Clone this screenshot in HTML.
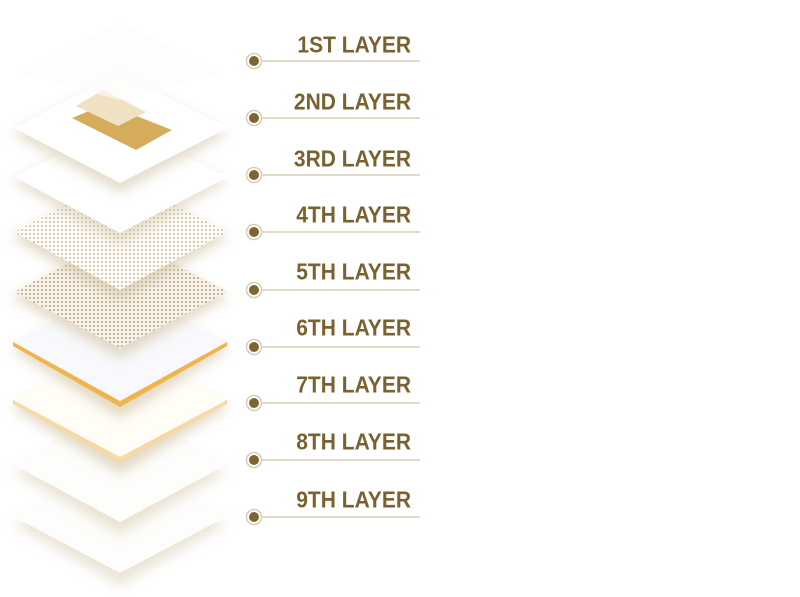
<!DOCTYPE html>
<html><head><meta charset="utf-8"><style>
html,body{margin:0;padding:0;background:#fff;}
body{width:800px;height:597px;position:relative;overflow:hidden;font-family:"Liberation Sans",sans-serif;}
.lbl{position:absolute;right:389px;font-weight:bold;font-size:21px;color:#7a6230;line-height:1;transform:scaleY(1.1);transform-origin:bottom;}
</style></head><body>
<svg width="800" height="597" style="position:absolute;left:0;top:0">
<defs>
<filter id="blur" x="-30%" y="-30%" width="160%" height="180%"><feGaussianBlur stdDeviation="6"/></filter>
<pattern id="dots" width="4" height="4" patternUnits="userSpaceOnUse">
<rect width="4" height="4" fill="#fdfbf7"/><circle cx="2" cy="2" r="1" fill="#cbbda2"/>
</pattern>
<pattern id="dots2" width="4" height="4" patternUnits="userSpaceOnUse">
<rect width="4" height="4" fill="#f8f4ec"/><circle cx="2" cy="2" r="1.1" fill="#bfae8e"/>
</pattern>
</defs>
<!-- L9 -->
<polygon points="120,470 226,524 120,585 14,524" fill="#d6c9ac" filter="url(#blur)" opacity="0.5"/>
<polygon points="120,462 226,517 120,573 14,517" fill="#fdfdfb"/>
<!-- L8 -->
<polygon points="120,418 226,472 120,534 14,472" fill="#d6c9ac" filter="url(#blur)" opacity="0.5"/>
<polygon points="120,410 226,465 120,522 14,465" fill="#fdfdfb"/>
<!-- L7 -->
<polygon points="120,356 228,408 120,474 12,408" fill="#d0c2a2" filter="url(#blur)" opacity="0.6"/>
<polygon points="120,350 227,400 227,404 120,463 13,404 13,400" fill="#f7d9a6"/>
<polygon points="120,344 227,400 120,457 13,400" fill="#fffdf6"/>
<!-- L6 -->
<polygon points="120,296 228,350 120,418 12,350" fill="#d0c2a2" filter="url(#blur)" opacity="0.6"/>
<polygon points="120,292 227,342 227,346 120,407 13,346 13,342" fill="#f0b54a"/>
<polygon points="120,286 227,342 120,401 13,342" fill="#f8f9fc"/>
<!-- L5 mesh -->
<polygon points="120,240 228,298 120,358 12,298" fill="#d0c2a2" filter="url(#blur)" opacity="0.6"/>
<polygon points="120,236 228,292 120,348 14,292" fill="url(#dots2)"/>
<!-- L4 mesh -->
<polygon points="120,182 228,238 120,300 12,238" fill="#d0c2a2" filter="url(#blur)" opacity="0.6"/>
<polygon points="120,178 228,232 120,290 14,232" fill="url(#dots)"/>
<!-- L3 -->
<polygon points="120,128 228,182 120,243 12,182" fill="#d0c2a2" filter="url(#blur)" opacity="0.5"/>
<polygon points="120,123 228,177 120,233 14,177" fill="#ffffff"/>
<!-- L2 -->
<polygon points="120,78 228,134 120,193 12,134" fill="#d0c2a2" filter="url(#blur)" opacity="0.55"/>
<polygon points="120,73 228,128 120,183 14,128" fill="#ffffff"/>
<polygon points="106,104 172,130 136,150 72,118" fill="#d4ac5c"/>
<polygon points="103,90 146,112 118,126 76,106" fill="#efe1c2"/>
<!-- L1 faint -->
<polygon points="120,22 225,72 120,100 15,72" fill="#fdfcfa" opacity="0.6"/>
<g stroke="#d9cdb6" stroke-width="1.5">
<line x1="258" y1="61" x2="420" y2="61"/><line x1="258" y1="118" x2="420" y2="118"/>
<line x1="258" y1="175" x2="420" y2="175"/><line x1="258" y1="232" x2="420" y2="232"/>
<line x1="258" y1="290" x2="420" y2="290"/><line x1="258" y1="347" x2="420" y2="347"/>
<line x1="258" y1="403" x2="420" y2="403"/><line x1="258" y1="460" x2="420" y2="460"/>
<line x1="258" y1="517" x2="420" y2="517"/>
</g>
<g fill="#fff" stroke="#d9cdb6" stroke-width="1.5">
<circle cx="254" cy="61" r="7.5"/><circle cx="254" cy="118" r="7.5"/><circle cx="254" cy="175" r="7.5"/>
<circle cx="254" cy="232" r="7.5"/><circle cx="254" cy="290" r="7.5"/><circle cx="254" cy="347" r="7.5"/>
<circle cx="254" cy="403" r="7.5"/><circle cx="254" cy="460" r="7.5"/><circle cx="254" cy="517" r="7.5"/>
</g>
<g fill="#7d6633">
<circle cx="254" cy="61" r="5"/><circle cx="254" cy="118" r="5"/><circle cx="254" cy="175" r="5"/>
<circle cx="254" cy="232" r="5"/><circle cx="254" cy="290" r="5"/><circle cx="254" cy="347" r="5"/>
<circle cx="254" cy="403" r="5"/><circle cx="254" cy="460" r="5"/><circle cx="254" cy="517" r="5"/>
</g>
</svg>
<div class="lbl" style="top:36px">1ST LAYER</div>
<div class="lbl" style="top:93px">2ND LAYER</div>
<div class="lbl" style="top:150px">3RD LAYER</div>
<div class="lbl" style="top:206px">4TH LAYER</div>
<div class="lbl" style="top:263px">5TH LAYER</div>
<div class="lbl" style="top:319px">6TH LAYER</div>
<div class="lbl" style="top:376px">7TH LAYER</div>
<div class="lbl" style="top:433px">8TH LAYER</div>
<div class="lbl" style="top:491px">9TH LAYER</div>
</body></html>
